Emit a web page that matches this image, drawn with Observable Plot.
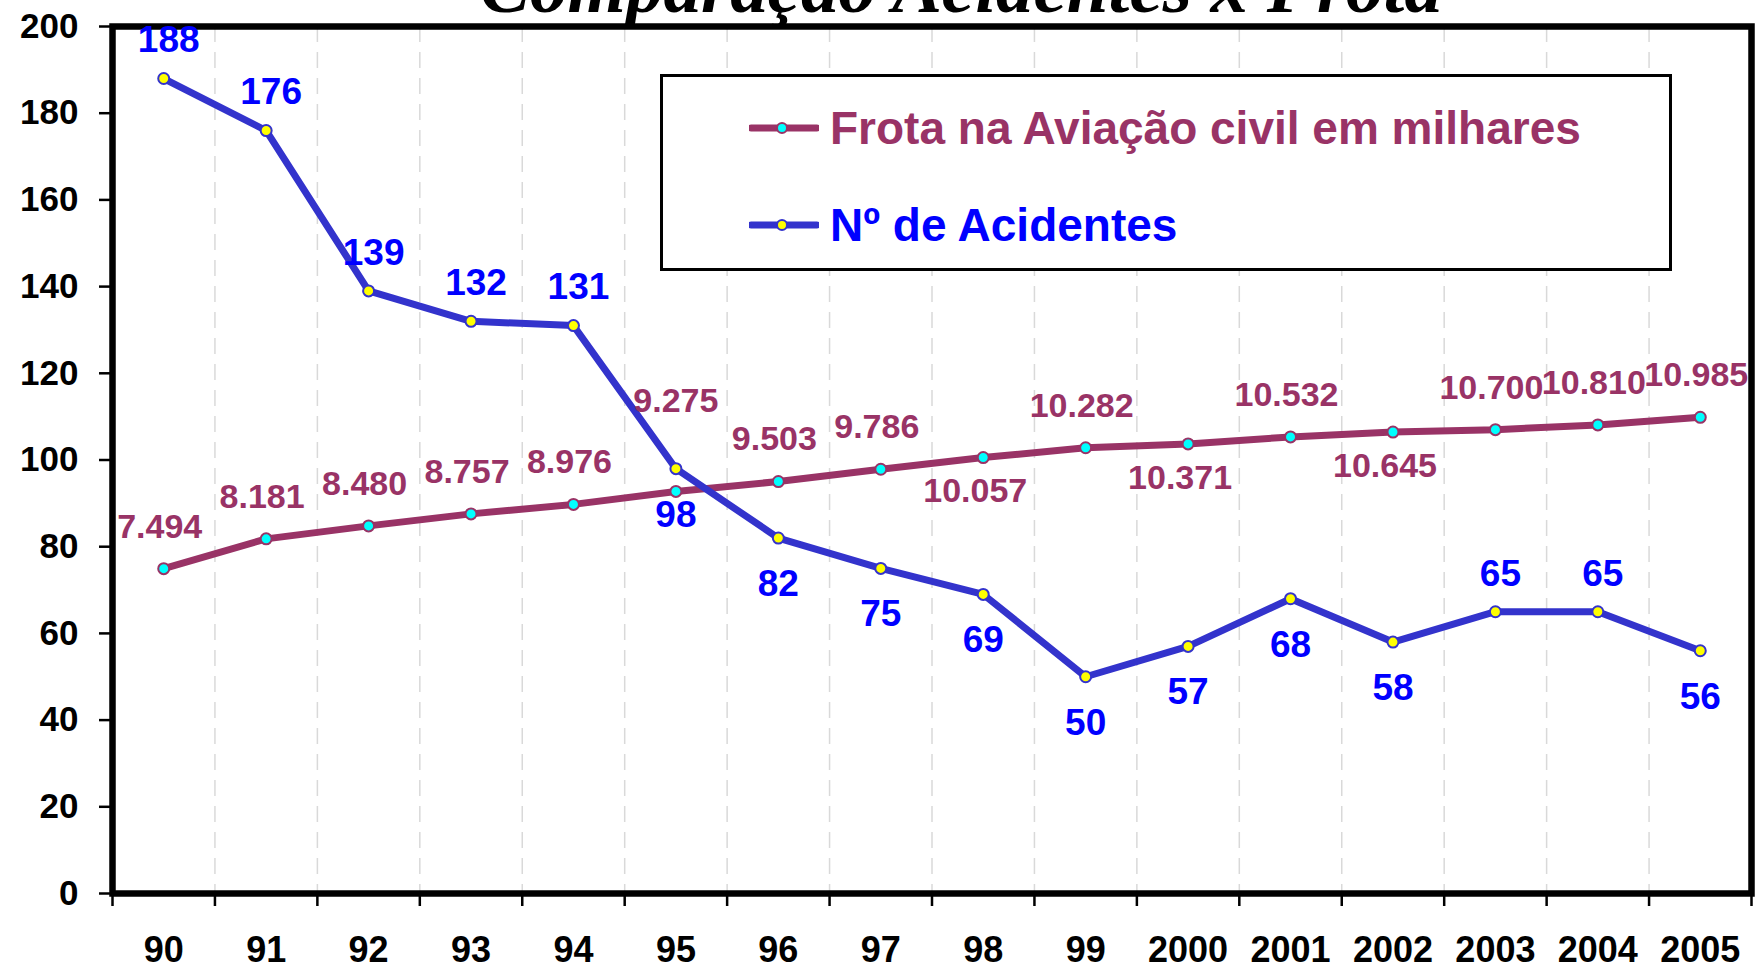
<!DOCTYPE html>
<html>
<head>
<meta charset="utf-8">
<script src="https://cdn.jsdelivr.net/npm/d3@7"></script>
<script src="https://cdn.jsdelivr.net/npm/@observablehq/plot@0.6"></script>
<style>
  html, body { margin: 0; padding: 0; background: #fff; }
  #wrap { position: relative; width: 1758px; height: 970px; overflow: hidden; background: #fff; }
  #legend { position: absolute; left: 660px; top: 74px; width: 1012px; height: 197px; box-sizing: border-box;
            border: 3px solid #000; background: #fff; font-family: "Liberation Sans", Arial, sans-serif; font-weight: bold; }
  .row { position: absolute; left: 86px; height: 60px; display: flex; align-items: center; font-size: 46px; line-height: 1; white-space: nowrap; }
  .row svg { margin-right: 11px; }
</style>
</head>
<body>
<div id="wrap"></div>
<script>
// ---- data ----
const years = ["90", "91", "92", "93", "94", "95", "96", "97", "98", "99", "2000", "2001", "2002", "2003", "2004", "2005"];
const acidentes = [188, 176, 139, 132, 131, 98, 82, 75, 69, 50, 57, 68, 58, 65, 65, 56];
const frota = [7494, 8181, 8480, 8757, 8976, 9275, 9503, 9786, 10057, 10282, 10371, 10532, 10645, 10700, 10810, 10985];
const yTicks = [0, 20, 40, 60, 80, 100, 120, 140, 160, 180, 200];
// label placement (side of the point where each value label sits)
const acidLabelSide = ["above", "above", "above", "above", "above", "below", "below", "below", "below", "below", "below", "below", "below", "above", "above", "below"];
const frotaLabelSide = ["above", "above", "above", "above", "above", "high", "above", "above", "below", "above", "below", "above", "below", "above", "above", "above"];
const seriesNames = ["Frota na Aviação civil em milhares", "Nº de Acidentes"];
const title = "Comparação Acidentes x Frota";

// ---- styles ----
const BURGUNDY = "#993366", BLUE_LINE = "#3333CC", BLUE_TEXT = "#0000FF";
const CYAN = "#00FFFF", YELLOW = "#FFFF00";
const SANS = "'Liberation Sans', Arial, Helvetica, sans-serif";

const ptBR = d3.formatLocale({decimal: ",", thousands: ".", grouping: [3], currency: ["R$", ""]});
const fmt = ptBR.format(",d");

const idx = d3.range(years.length);
const frotaData = idx.map(i => ({i, v: frota[i] / 100, label: fmt(frota[i]), side: frotaLabelSide[i]}));
const acidData = idx.map(i => ({i, v: acidentes[i], label: String(acidentes[i]), side: acidLabelSide[i]}));

const chart = Plot.plot({
  width: 1758,
  height: 970,
  marginLeft: 112,
  marginRight: 7,
  marginTop: 26,
  marginBottom: 77,
  style: {fontFamily: SANS, fontWeight: "bold", background: "white", color: "black"},
  x: {type: "linear", domain: [-0.5, years.length - 0.5]},
  y: {domain: [0, 200]},
  marks: [
    Plot.ruleX(d3.range(0.5, years.length - 0.5, 1), {stroke: "#d9d9d9", strokeWidth: 1.5, strokeDasharray: "16,10"}),
    Plot.axisY({ticks: yTicks, tickSize: 13, tickPadding: 21, fontSize: 35, strokeWidth: 2.5, label: null}),
    Plot.axisX({ticks: d3.range(-0.5, years.length, 1), tickSize: 13, tickFormat: () => "", strokeWidth: 2.5, label: null}),
    Plot.axisX({ticks: idx, tickSize: 0, tickPadding: 43, tickFormat: i => years[i], fontSize: 36, label: null}),
    Plot.frame({stroke: "black", strokeWidth: 6.5}),
    Plot.line(frotaData, {x: "i", y: "v", stroke: BURGUNDY, strokeWidth: 7}),
    Plot.dot(frotaData, {x: "i", y: "v", r: 5.5, fill: CYAN, stroke: BURGUNDY, strokeWidth: 2}),
    Plot.line(acidData, {x: "i", y: "v", stroke: BLUE_LINE, strokeWidth: 7}),
    Plot.dot(acidData, {x: "i", y: "v", r: 5.5, fill: YELLOW, stroke: BLUE_LINE, strokeWidth: 2}),
    Plot.text(frotaData.filter(d => d.side === "above"), {x: "i", y: "v", text: "label", dy: -42, dx: -4, fill: BURGUNDY, fontSize: 34}),
    Plot.text(frotaData.filter(d => d.side === "high"), {x: "i", y: "v", text: "label", dy: -90, fill: BURGUNDY, fontSize: 34}),
    Plot.text(frotaData.filter(d => d.side === "below"), {x: "i", y: "v", text: "label", dy: 34, dx: -8, fill: BURGUNDY, fontSize: 34}),
    Plot.text(acidData.filter(d => d.side === "above"), {x: "i", y: "v", text: "label", dy: -38, dx: 5, fill: BLUE_TEXT, fontSize: 37}),
    Plot.text(acidData.filter(d => d.side === "below"), {x: "i", y: "v", text: "label", dy: 46, fill: BLUE_TEXT, fontSize: 37}),
    Plot.text([title], {frameAnchor: "top", lineAnchor: "bottom", dy: -15, dx: 29, fill: "black",
      fontFamily: "'Liberation Serif', 'Times New Roman', serif", fontStyle: "italic", fontWeight: "bold", fontSize: 75})
  ]
});

const wrap = document.getElementById("wrap");
wrap.appendChild(chart);

// legend
const legend = document.createElement("div");
legend.id = "legend";
const legendStyles = [
  {line: BURGUNDY, fill: CYAN, text: BURGUNDY, top: 21},
  {line: BLUE_LINE, fill: YELLOW, text: BLUE_TEXT, top: 118}
];
seriesNames.forEach((name, k) => {
  const s = legendStyles[k];
  const row = document.createElement("div");
  row.className = "row";
  row.style.top = s.top + "px";
  row.innerHTML = `<svg width="70" height="20" viewBox="0 0 70 20"><line x1="2" y1="10" x2="68" y2="10" stroke="${s.line}" stroke-width="7" stroke-linecap="round"/><circle cx="33" cy="10" r="5" fill="${s.fill}" stroke="${s.line}" stroke-width="2"/></svg><span style="color:${s.text}">${name}</span>`;
  legend.appendChild(row);
});
wrap.appendChild(legend);
</script>
</body>
</html>
